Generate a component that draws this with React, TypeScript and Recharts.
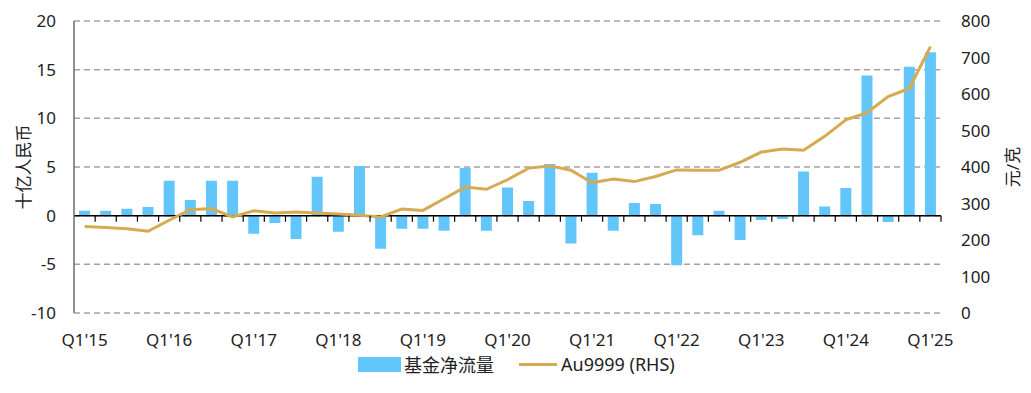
import { ComposedChart, Bar, Line, XAxis, YAxis, CartesianGrid, ReferenceLine } from 'recharts';

const quarters = [
  "Q1'15", "Q2'15", "Q3'15", "Q4'15", "Q1'16", "Q2'16", "Q3'16", "Q4'16",
  "Q1'17", "Q2'17", "Q3'17", "Q4'17", "Q1'18", "Q2'18", "Q3'18", "Q4'18",
  "Q1'19", "Q2'19", "Q3'19", "Q4'19", "Q1'20", "Q2'20", "Q3'20", "Q4'20",
  "Q1'21", "Q2'21", "Q3'21", "Q4'21", "Q1'22", "Q2'22", "Q3'22", "Q4'22",
  "Q1'23", "Q2'23", "Q3'23", "Q4'23", "Q1'24", "Q2'24", "Q3'24", "Q4'24",
  "Q1'25",
];

// 基金净流量, 十亿人民币
const fundFlows = [
  0.5, 0.5, 0.7, 0.9, 3.6, 1.6, 3.6, 3.6,
  -1.85, -0.75, -2.4, 4.0, -1.65, 5.1, -3.4, -1.35,
  -1.35, -1.55, 4.9, -1.55, 2.9, 1.5, 5.3, -2.85,
  4.4, -1.55, 1.3, 1.2, -5.1, -2.0, 0.5, -2.5,
  -0.45, -0.35, 4.55, 0.95, 2.85, 14.4, -0.65, 15.3,
  16.8,
];

// Au9999, 元/克
const au9999 = [
  237, 234, 231, 224, 254, 283, 286, 263,
  280, 274, 277, 274, 271, 268, 263, 285,
  281, 313, 345, 339, 365, 397, 403, 391,
  357, 367, 360, 374, 392, 391, 391, 413,
  441, 449, 446, 484, 529, 549, 593, 615,
  730,
];

const leftTicks = [-10, -5, 0, 5, 10, 15, 20];
const rightTicks = [0, 100, 200, 300, 400, 500, 600, 700, 800];

const data = quarters.map((q, i) => ({ q, flow: fundFlows[i], au: au9999[i] }));

const W = 1031;
const H = 393;
const TOP = 21;
const PLOT_H = 292;
const ZERO_Y = TOP + PLOT_H * (20 / 30);
const FONT = '"Noto Sans", "Noto Sans CJK SC", sans-serif';
const BLUE = '#62c6fb';
const GOLD = '#d5aa50';

function QuarterTick(props: any) {
  const { x, y, payload, index } = props;
  const half = payload?.offset ?? 10.57;
  const showLabel = index % 4 === 0;
  return (
    <g>
      {index > 0 && (
        <line x1={x - half} x2={x - half} y1={ZERO_Y} y2={ZERO_Y + 6} stroke="#000" strokeWidth={1.2} />
      )}
      {index === quarters.length - 1 && (
        <line x1={x + half} x2={x + half} y1={ZERO_Y} y2={ZERO_Y + 6} stroke="#000" strokeWidth={1.2} />
      )}
      {showLabel && (
        <text x={x} y={y + 33} textAnchor="middle" fontSize={17} fill="#222" fontFamily={FONT}>
          {payload.value}
        </text>
      )}
    </g>
  );
}

export default function App() {
  return (
    <div style={{ position: 'absolute', left: 0, top: 0, width: W, height: H, background: '#fff', fontFamily: FONT }}>
      <ComposedChart
        width={W}
        height={H}
        data={data}
        margin={{ top: TOP, right: 0, left: 0, bottom: 50 }}
        barCategoryGap="24%"
      >
        <CartesianGrid vertical={false} yAxisId="left" stroke="#a3a3a3" strokeWidth={1.5} strokeDasharray="6 4" />
        <XAxis
          dataKey="q"
          interval={0}
          height={30}
          axisLine={false}
          tickLine={false}
          tickSize={0}
          tickMargin={0}
          tick={<QuarterTick />}
        />
        <YAxis
          yAxisId="left"
          width={74}
          domain={[-10, 20]}
          ticks={leftTicks}
          axisLine={{ stroke: '#6b6b6b', strokeWidth: 1.5 }}
          tickLine={false}
          tickSize={0}
          tickMargin={18}
          tick={{ fontSize: 17, fill: '#222', fontFamily: FONT }}
          allowDataOverflow
        />
        <YAxis
          yAxisId="right"
          orientation="right"
          width={90}
          domain={[0, 800]}
          ticks={rightTicks}
          axisLine={false}
          tickLine={false}
          tickSize={0}
          tickMargin={20}
          tick={{ fontSize: 17, fill: '#222', fontFamily: FONT, textAnchor: 'start' }}
        />
        <Bar yAxisId="left" dataKey="flow" name="基金净流量" fill={BLUE} isAnimationActive={false} />
        <ReferenceLine yAxisId="left" y={0} stroke="#000" strokeWidth={1.5} />
        <Line
          yAxisId="right"
          dataKey="au"
          name="Au9999 (RHS)"
          type="linear"
          stroke={GOLD}
          strokeWidth={3}
          dot={false}
          isAnimationActive={false}
        />
      </ComposedChart>

      <div
        style={{
          position: 'absolute', left: 22, top: 167, fontSize: 17, color: '#222',
          transform: 'translate(-50%, -50%) rotate(-90deg)', whiteSpace: 'nowrap',
        }}
      >
        十亿人民币
      </div>
      <div
        style={{
          position: 'absolute', left: 1011, top: 167, fontSize: 17, color: '#222',
          transform: 'translate(-50%, -50%) rotate(-90deg)', whiteSpace: 'nowrap',
        }}
      >
        元/克
      </div>

      <div
        style={{
          position: 'absolute', left: 358, top: 351, display: 'flex', alignItems: 'center',
          fontSize: 18, color: '#222', whiteSpace: 'nowrap',
        }}
      >
        <span style={{ display: 'inline-block', width: 43, height: 15, background: BLUE, marginRight: 3 }} />
        <span>基金净流量</span>
        <span style={{ display: 'inline-block', width: 38, height: 3, background: GOLD, marginLeft: 25, marginRight: 4 }} />
        <span>Au9999 (RHS)</span>
      </div>
    </div>
  );
}
